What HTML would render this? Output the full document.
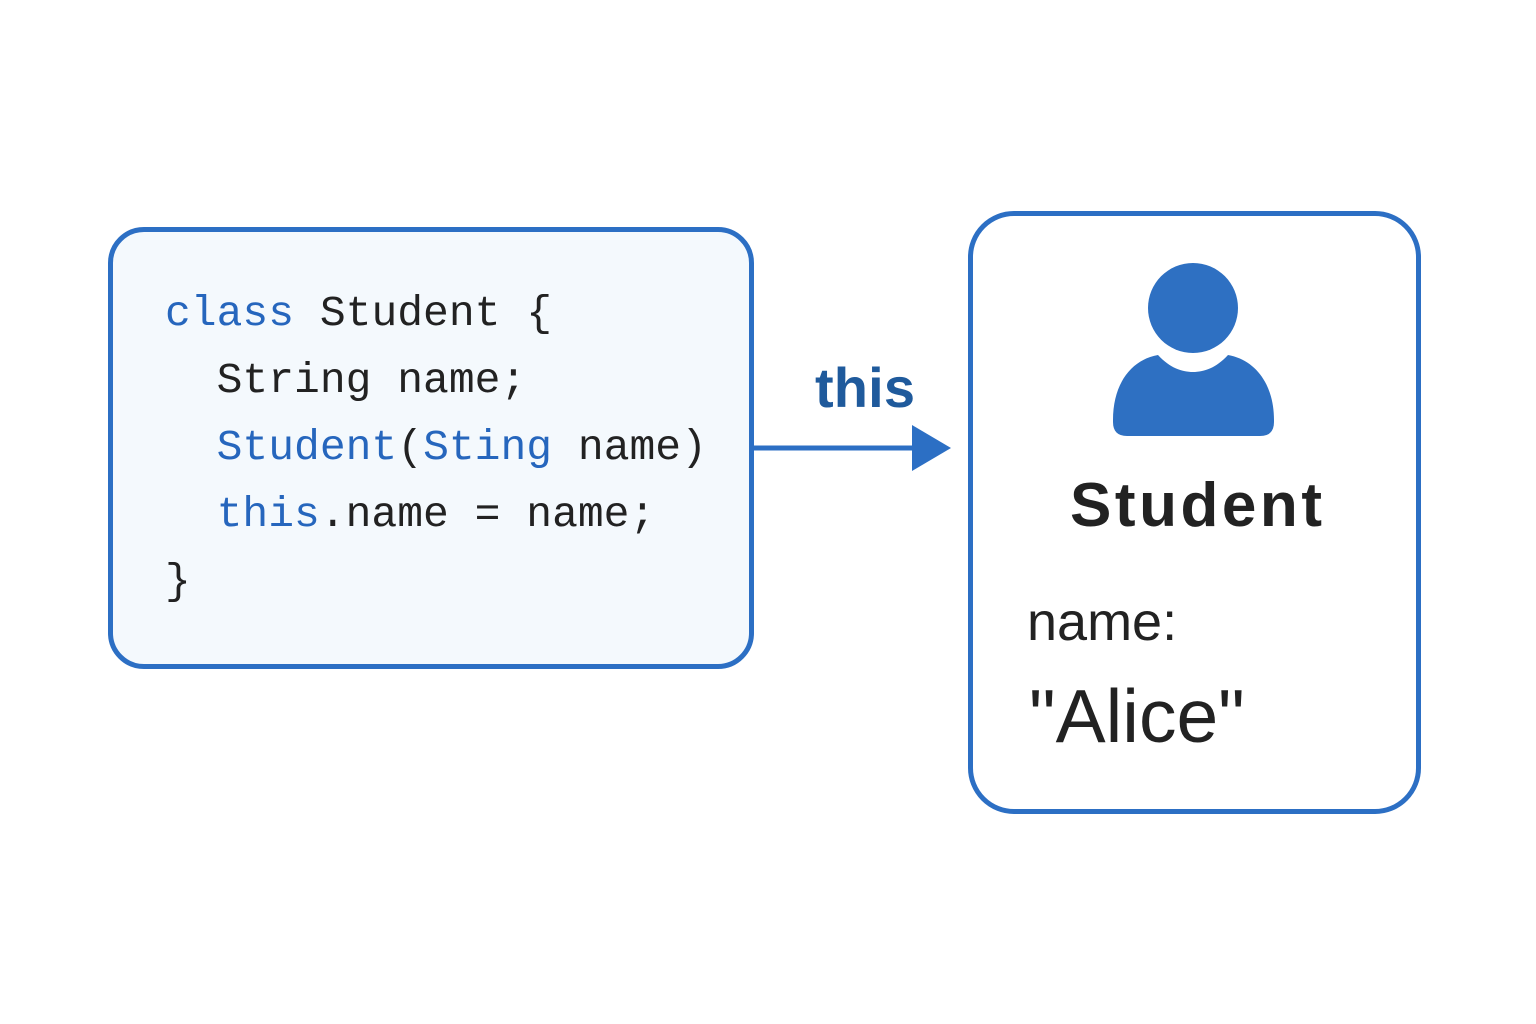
<!DOCTYPE html>
<html><head><meta charset="utf-8"><style>
html,body{margin:0;padding:0;background:#fff;}
body{width:1536px;height:1024px;position:relative;overflow:hidden;font-family:"Liberation Sans",sans-serif;}
.lbox{position:absolute;left:108px;top:227px;width:636px;height:432px;border:5px solid #2c6fc4;border-radius:36px;background:#f4f9fd;}
.rbox{position:absolute;left:968px;top:211px;width:443px;height:593px;border:5px solid #2c6fc4;border-radius:46px;background:#fff;}
.code{position:absolute;font-family:"Liberation Mono",monospace;font-size:43px;color:#222;white-space:pre;line-height:67px;left:165px;top:280px;}
.k{color:#2666bd;}
</style></head><body>
<div class="lbox"></div>
<div class="rbox"></div>
<div class="code"><span class="k">class</span> Student {
  String name;
  <span class="k">Student</span>(<span class="k">Sting</span> name)
  <span class="k">this</span>.name = name;
}</div>
<svg width="1536" height="1024" style="position:absolute;left:0;top:0">
<line x1="754" y1="448" x2="914" y2="448" stroke="#2c6fc4" stroke-width="5"/>
<polygon points="912,425 951,448 912,471" fill="#2c6fc4"/>
<text x="815" y="407" font-family="Liberation Sans, sans-serif" font-size="56" fill="#1f5a9c" font-weight="bold" textLength="100">this</text>
<path d="M1113,420 C1113,385 1130,360 1158,355 C1170,368 1182,372 1193,372 C1204,372 1216,368 1228,355 C1256,360 1274,385 1274,420 L1274,422 Q1274,436 1260,436 L1127,436 Q1113,436 1113,422 Z" fill="#2e70c2"/>
<circle cx="1193" cy="308" r="51" fill="#fff"/>
<circle cx="1193" cy="308" r="45" fill="#2e70c2"/>
<text x="1196" y="526" text-anchor="middle" font-family="Liberation Sans, sans-serif" font-size="62" font-weight="bold" fill="#222" textLength="252">Student</text>
<text x="1027" y="640" font-family="Liberation Sans, sans-serif" font-size="54" fill="#222">name:</text>
<text x="1029" y="742" font-family="Liberation Sans, sans-serif" font-size="75" fill="#222">"Alice"</text>
</svg>
</body></html>
